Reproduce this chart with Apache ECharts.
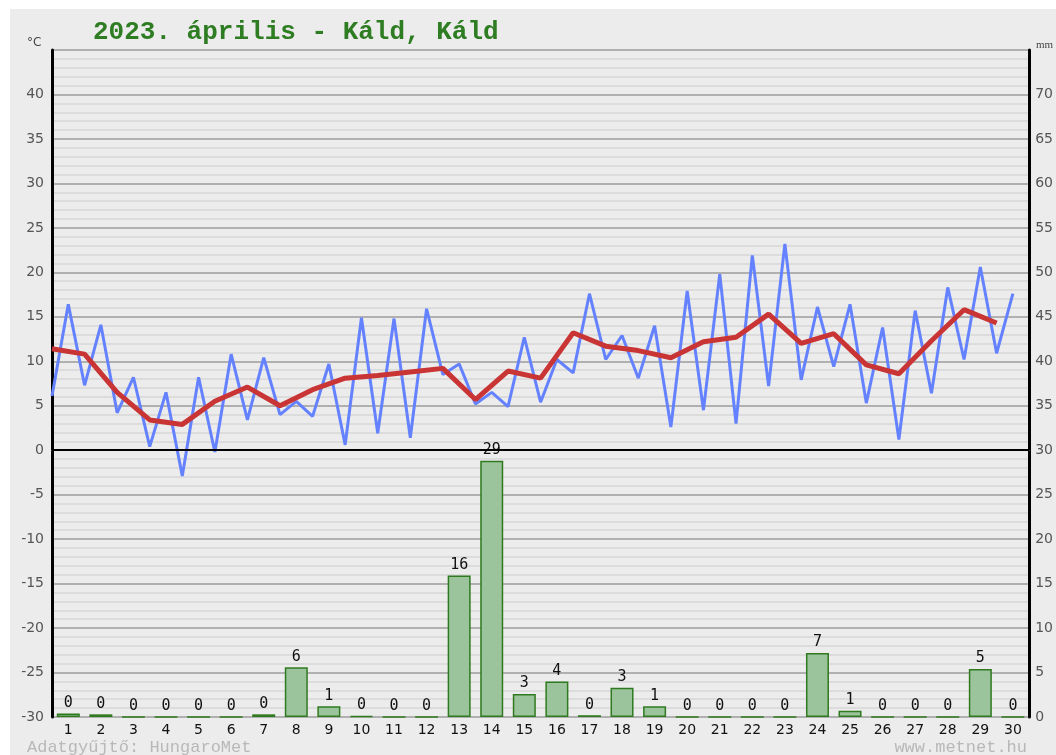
<!DOCTYPE html>
<html>
<head>
<meta charset="utf-8">
<script src="https://cdn.jsdelivr.net/npm/echarts@6/dist/echarts.min.js"></script>
<style>
  html, body { margin: 0; padding: 0; background: #ffffff; }
  #chart { position: absolute; left: 10px; top: 9px; width: 1046px; height: 746px; background: #ececec; }
</style>
</head>
<body>
<div id="chart"></div>
<script>
// napok
var days = ['1','2','3','4','5','6','7','8','9','10','11','12','13','14','15','16','17','18','19','20','21','22','23','24','25','26','27','28','29','30'];

// napi min / max homerseklet felvaltva (ket pont naponta)
var tempMinMax = [6.1, 16.4, 7.3, 14.1, 4.2, 8.2, 0.4, 6.5, -2.9, 8.2,
                  -0.2, 10.8, 3.4, 10.4, 4.0, 5.5, 3.8, 9.7, 0.6, 14.9,
                  1.9, 14.8, 1.4, 15.9, 8.5, 9.7, 5.2, 6.5, 4.9, 12.7,
                  5.4, 10.2, 8.7, 17.6, 10.2, 12.9, 8.1, 14.0, 2.6, 17.9,
                  4.5, 19.8, 3.0, 21.9, 7.2, 23.2, 7.9, 16.1, 9.4, 16.4,
                  5.3, 13.8, 1.2, 15.7, 6.4, 18.3, 10.2, 20.6, 10.9, 17.6];

// napi kozephomerseklet
var tempMean = [11.4, 10.8, 6.5, 3.4, 2.9, 5.5, 7.1, 5.0, 6.8, 8.1,
                8.4, 8.8, 9.2, 5.7, 8.9, 8.1, 13.2, 11.7, 11.2, 10.4,
                12.2, 12.7, 15.3, 12.0, 13.1, 9.6, 8.6, 12.3, 15.8, 14.3];

// csapadek (mm)
var precip = [0.4, 0.3, 0, 0, 0, 0, 0.3, 5.6, 1.2, 0.1,
              0, 0, 15.9, 28.8, 2.6, 4.0, 0.2, 3.3, 1.2, 0,
              0, 0, 0, 7.2, 0.7, 0, 0, 0, 5.4, 0];
var precipLabels = [0, 0, 0, 0, 0, 0, 0, 6, 1, 0,
                    0, 0, 16, 29, 3, 4, 0, 3, 1, 0,
                    0, 0, 0, 7, 1, 0, 0, 0, 5, 0];

// segedtengelyek kategoriai (fel napos es napos hatarok)
var halfDaySlots = [];
for (var i = 0; i <= 60; i++) halfDaySlots.push(String(i));
var dayBounds = [];
for (var j = 0; j <= 30; j++) dayBounds.push(String(j));

var chart = echarts.init(document.getElementById('chart'));

var option = {
  animation: false,
  grid: { left: 42, right: 25, top: 41, bottom: 38 },
  graphic: [
    { type: 'text', left: 83, top: 10,
      style: { text: '2023. április - Káld, Káld', fill: '#2e7d22', fontFamily: 'Liberation Mono', fontWeight: 'bold', fontSize: 26 } },
    { type: 'text', left: 17, top: 28,
      style: { text: '°C', fill: '#444', fontFamily: 'DejaVu Sans', fontSize: 12 } },
    { type: 'text', left: 1026, top: 31,
      style: { text: 'mm', fill: '#444', fontFamily: 'Liberation Serif', fontSize: 11 } },
    { type: 'text', left: 17, top: 730,
      style: { text: 'Adatgyűjtő: HungaroMet', fill: '#b8b8b8', fontFamily: 'Liberation Mono', fontSize: 17 } },
    { type: 'text', right: 29, top: 730,
      style: { text: 'www.metnet.hu', fill: '#b8b8b8', fontFamily: 'Liberation Mono', fontSize: 17 } }
  ],
  xAxis: [
    { type: 'category', data: days, boundaryGap: true,
      axisLine: { show: true, lineStyle: { color: '#999', width: 1 } },
      axisTick: { show: false },
      axisLabel: { color: '#111', fontFamily: 'DejaVu Sans', fontSize: 14, margin: 6 },
      splitLine: { show: false } },
    { type: 'category', data: halfDaySlots, boundaryGap: false, show: false },
    { type: 'category', data: dayBounds, boundaryGap: false, show: false }
  ],
  yAxis: [
    { type: 'value', min: -30, max: 45, interval: 5,
      axisLine: { show: true, lineStyle: { color: '#000', width: 3 } },
      axisTick: { show: false },
      axisLabel: { color: '#555', fontFamily: 'DejaVu Sans', fontSize: 14, margin: 8,
        formatter: function (v) { return v === 45 ? '' : String(v); } },
      splitLine: { show: true, lineStyle: { color: '#9c9c9c', width: 1.5 } },
      minorTick: { show: false, splitNumber: 5 },
      minorSplitLine: { show: true, lineStyle: { color: '#d6d6d6', width: 1.5 } } },
    { type: 'value', min: 0, max: 75, interval: 5, position: 'right',
      axisLine: { show: true, lineStyle: { color: '#000', width: 3 } },
      axisTick: { show: false },
      axisLabel: { color: '#555', fontFamily: 'DejaVu Sans', fontSize: 14, margin: 6,
        formatter: function (v) { return v === 75 ? '' : String(v); } },
      splitLine: { show: false } }
  ],
  series: [
    { name: 'csapadék', type: 'bar', xAxisIndex: 0, yAxisIndex: 1,
      data: precip, barWidth: 23,
      itemStyle: { color: '#9cc49c', borderColor: '#2f7a1f', borderWidth: 1.5 },
      label: { show: true, position: 'top', distance: 3, color: '#111',
        fontFamily: 'DejaVu Sans Mono', fontSize: 15,
        formatter: function (p) { return String(precipLabels[p.dataIndex]); } },
      z: 2 },
    { name: 'min/max', type: 'line', xAxisIndex: 1, yAxisIndex: 0,
      data: tempMinMax, symbol: 'none',
      lineStyle: { color: '#6482ff', width: 3 },
      markLine: { silent: true, symbol: 'none', label: { show: false },
        lineStyle: { color: '#000', width: 2, type: 'solid' },
        data: [{ yAxis: 0 }] },
      z: 3 },
    { name: 'átlag', type: 'line', xAxisIndex: 2, yAxisIndex: 0,
      data: tempMean, symbol: 'none',
      lineStyle: { color: '#c93434', width: 5 },
      z: 4 }
  ]
};

chart.setOption(option);
</script>
</body>
</html>
